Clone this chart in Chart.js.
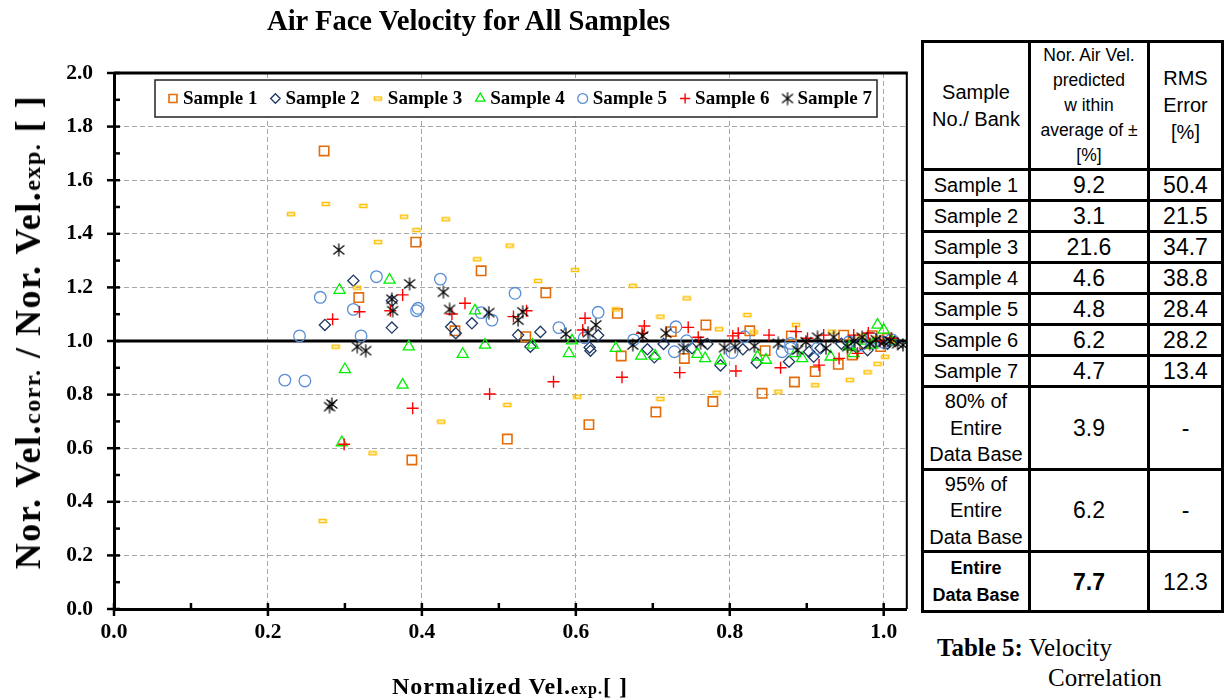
<!DOCTYPE html>
<html>
<head>
<meta charset="utf-8">
<script src="https://cdn.jsdelivr.net/npm/chart.js@4.4.0/dist/chart.umd.min.js"></script>
<style>
  body { margin: 0; background: #fff; }
  #page { position: relative; width: 1225px; height: 698px; overflow: hidden; background: #fff; }
  #chart-wrap { position: absolute; left: 0; top: 0; width: 915px; height: 698px; }
  .serif { font-family: 'Liberation Serif', 'Times New Roman', serif; color: #000; white-space: nowrap; }
  #title { position: absolute; left: 267px; top: 7px; font-size: 28.6px; font-weight: bold; line-height: 1; }
  #ytitle { position: absolute; left: 28px; top: 332px; font-size: 36px; font-weight: bold; line-height: 1;
            letter-spacing: 1.5px; transform: translate(-50%, -50%) rotate(-90deg); }
  #xtitle { position: absolute; left: 510px; top: 686px; font-size: 24px; font-weight: bold; line-height: 1;
            letter-spacing: 1px; transform: translate(-50%, -50%); }
  .sm { font-size: 0.67em; }
  #tbl { position: absolute; left: 921px; top: 40px; width: 300px; table-layout: fixed;
         border-collapse: collapse; font-family: 'Liberation Sans', Arial, sans-serif; color: #000; }
  #tbl td { border: 3px solid #000; text-align: center; vertical-align: middle; padding: 0; }
  #caption { position: absolute; left: 937px; top: 633px; font-size: 25px; line-height: 30px; }
</style>
</head>
<body>
<div id="page">
  <div id="chart-wrap"><canvas id="chart"></canvas></div>
  <div id="title" class="serif">Air Face Velocity for All Samples</div>
  <div id="ytitle" class="serif">Nor. Vel.<span class="sm">corr.</span> / Nor. Vel.<span class="sm">exp.</span> [ ]</div>
  <div id="xtitle" class="serif">Normalized Vel.<span class="sm">exp.</span>[ ]</div>
  <table id="tbl"></table>
  <div id="caption" class="serif"><b>Table 5:</b> Velocity<br><span style="padding-left:111px">Correlation</span></div>
</div>
<script>
/* series: [normalized vel. exp., corr./exp. ratio] */
var SAMPLE1 = [
  [0.273, 1.709], [0.392, 1.369], [0.477, 1.262], [0.318, 1.162], [0.443, 1.038], [0.387, 0.556],
  [0.561, 1.180], [0.535, 1.016], [0.511, 0.634], [0.654, 1.103], [0.659, 0.944], [0.617, 0.688],
  [0.724, 1.035], [0.741, 0.935], [0.704, 0.735], [0.769, 1.060], [0.778, 0.774], [0.826, 1.038],
  [0.846, 0.964], [0.842, 0.805], [0.880, 1.019], [0.884, 0.847], [0.911, 0.886], [0.941, 0.913],
  [0.948, 1.022], [0.959, 0.948], [0.975, 0.990], [0.996, 0.979], [1.005, 1.010], [0.985, 1.020]
];
var SAMPLE2 = [
  [0.274, 1.060], [0.311, 1.225], [0.361, 1.050], [0.361, 1.150], [0.438, 1.053], [0.444, 1.029],
  [0.465, 1.066], [0.525, 1.022], [0.541, 0.979], [0.554, 1.034], [0.618, 0.976], [0.619, 0.964],
  [0.629, 1.021], [0.693, 0.969], [0.702, 0.939], [0.714, 0.989], [0.751, 0.973], [0.771, 0.989],
  [0.788, 0.909], [0.817, 0.969], [0.835, 0.919], [0.877, 0.923], [0.903, 0.960], [0.909, 0.941],
  [0.918, 0.973], [0.945, 0.990], [0.965, 0.975], [0.979, 0.966], [0.990, 0.995], [1.005, 0.990],
  [1.015, 1.000]
];
var SAMPLE3 = [
  [0.230, 1.473], [0.275, 1.511], [0.324, 1.504], [0.377, 1.464], [0.393, 1.414], [0.343, 1.369],
  [0.431, 1.454], [0.514, 1.356], [0.472, 1.305], [0.316, 1.199], [0.551, 1.224], [0.599, 1.265],
  [0.674, 1.206], [0.744, 1.159], [0.652, 1.118], [0.823, 1.097], [0.710, 1.091], [0.786, 1.044],
  [0.886, 1.060], [0.831, 1.032], [0.933, 1.035], [0.288, 0.979], [0.336, 0.581], [0.271, 0.328],
  [0.425, 0.699], [0.511, 0.761], [0.602, 0.792], [0.710, 0.784], [0.783, 0.807], [0.863, 0.811],
  [0.911, 0.835], [0.956, 0.854], [0.979, 0.883], [0.992, 0.915], [1.002, 0.941], [0.970, 1.020],
  [0.990, 1.010], [1.010, 0.990]
];
var SAMPLE4 = [
  [0.293, 1.190], [0.358, 1.228], [0.469, 1.113], [0.383, 0.979], [0.300, 0.894], [0.375, 0.836],
  [0.296, 0.621], [0.453, 0.951], [0.482, 0.985], [0.544, 0.985], [0.595, 1.001], [0.591, 0.954],
  [0.652, 0.973], [0.685, 0.944], [0.703, 0.944], [0.758, 0.951], [0.768, 0.935], [0.788, 0.927],
  [0.836, 0.941], [0.847, 0.929], [0.885, 0.954], [0.894, 0.935], [0.931, 0.941], [0.955, 0.979],
  [0.961, 0.954], [0.975, 1.000], [0.992, 1.060], [1.000, 1.041], [1.010, 1.000], [0.985, 0.985]
];
var SAMPLE5 = [
  [0.222, 0.854], [0.248, 0.851], [0.241, 1.019], [0.268, 1.163], [0.311, 1.118], [0.321, 1.019],
  [0.341, 1.240], [0.393, 1.113], [0.395, 1.122], [0.424, 1.231], [0.477, 1.106], [0.491, 1.078],
  [0.521, 1.178], [0.578, 1.050], [0.611, 1.012], [0.629, 1.107], [0.675, 1.004], [0.730, 1.053],
  [0.728, 0.960], [0.744, 1.001], [0.803, 0.957], [0.819, 1.016], [0.868, 0.960], [0.879, 0.991],
  [0.879, 0.973], [0.914, 0.973], [0.955, 0.997], [0.970, 0.985], [0.985, 1.010], [1.000, 0.995],
  [1.010, 1.005]
];
var SAMPLE6 = [
  [0.284, 1.081], [0.299, 0.615], [0.319, 1.109], [0.359, 1.113], [0.375, 1.172], [0.388, 0.749],
  [0.439, 1.101], [0.456, 1.141], [0.488, 0.802], [0.519, 1.091], [0.536, 1.113], [0.571, 0.848],
  [0.609, 1.041], [0.612, 1.085], [0.660, 0.865], [0.686, 1.029], [0.689, 1.056], [0.735, 0.882],
  [0.746, 1.051], [0.759, 1.014], [0.804, 1.019], [0.808, 0.888], [0.811, 1.029], [0.851, 1.022],
  [0.866, 0.900], [0.886, 1.035], [0.901, 1.010], [0.916, 0.910], [0.922, 1.022], [0.942, 0.935],
  [0.961, 1.022], [0.966, 0.954], [0.980, 1.030], [0.995, 1.000], [1.010, 1.010]
];
var SAMPLE7 = [
  [0.280, 0.755], [0.283, 0.765], [0.292, 1.340], [0.316, 0.979], [0.327, 0.964], [0.361, 1.156],
  [0.362, 1.113], [0.384, 1.213], [0.428, 1.182], [0.436, 1.118], [0.487, 1.106], [0.525, 1.078],
  [0.531, 1.109], [0.587, 1.026], [0.616, 1.031], [0.626, 1.060], [0.674, 0.985], [0.687, 1.019],
  [0.717, 1.029], [0.740, 0.973], [0.762, 0.991], [0.793, 0.975], [0.807, 0.979], [0.832, 0.981],
  [0.863, 0.991], [0.888, 0.966], [0.899, 0.997], [0.914, 1.014], [0.925, 0.973], [0.935, 1.014],
  [0.953, 0.979], [0.962, 1.000], [0.972, 1.014], [0.982, 0.990], [0.990, 1.005], [1.000, 0.995],
  [1.008, 1.000], [1.018, 0.990], [1.025, 0.985]
];
var SAMPLE_NAMES = ['Sample 1', 'Sample 2', 'Sample 3', 'Sample 4', 'Sample 5', 'Sample 6', 'Sample 7'];
var PERFECT_LINE = [[0, 1], [1.03, 1]];

/* Table 5 */
var TABLE_ROWS = ['Sample 1', 'Sample 2', 'Sample 3', 'Sample 4', 'Sample 5', 'Sample 6', 'Sample 7',
  '80% of<br>Entire<br>Data Base', '95% of<br>Entire<br>Data Base', 'Entire<br>Data Base'];
var TABLE_WITHIN = ['9.2', '3.1', '21.6', '4.6', '4.8', '6.2', '4.7', '3.9', '6.2', '7.7'];
var TABLE_RMS = ['50.4', '21.5', '34.7', '38.8', '28.4', '28.2', '13.4', '-', '-', '12.3'];

function xy(arr) { return arr.map(function (p) { return { x: p[0], y: p[1] }; }); }

/* custom markers: Excel-style small bar and six-arm asterisk */
function barMarker() {
  var c = document.createElement('canvas'); c.width = 10; c.height = 6;
  var g = c.getContext('2d');
  g.strokeStyle = '#FFC000'; g.lineWidth = 1.5;
  g.strokeRect(1.5, 1.5, 7, 3);
  return c;
}
function starMarker() {
  var c = document.createElement('canvas'); c.width = 14; c.height = 14;
  var g = c.getContext('2d');
  g.strokeStyle = '#000'; g.lineWidth = 1.2;
  g.beginPath();
  g.moveTo(1.5, 2.5); g.lineTo(12.5, 11.5);
  g.moveTo(12.5, 2.5); g.lineTo(1.5, 11.5);
  g.moveTo(7, 0.5); g.lineTo(7, 13.5);
  g.stroke();
  return c;
}

var MARKERS = [
  { pointStyle: 'rect',     radius: 6.6, color: '#E46C0A', width: 1.6 },
  { pointStyle: 'rectRot',  radius: 5.6, color: '#1F3864', width: 1.3 },
  { pointStyle: barMarker(), radius: 5,  color: '#FFC000', width: 1.5 },
  { pointStyle: 'triangle', radius: 6.4, color: '#00EE00', width: 1.3 },
  { pointStyle: 'circle',   radius: 5.8, color: '#5B8ED6', width: 1.3 },
  { pointStyle: 'cross',    radius: 6,   color: '#FF0000', width: 1.4 },
  { pointStyle: starMarker(), radius: 7, color: '#000000', width: 1.2 }
];
var SERIES = [SAMPLE1, SAMPLE2, SAMPLE3, SAMPLE4, SAMPLE5, SAMPLE6, SAMPLE7];

var datasets = SERIES.map(function (s, i) {
  var m = MARKERS[i];
  return {
    label: SAMPLE_NAMES[i], data: xy(s), order: 7 - i,
    pointStyle: m.pointStyle, pointRadius: m.radius, pointBorderColor: m.color,
    pointBackgroundColor: 'rgba(0,0,0,0)', pointBorderWidth: m.width, showLine: false
  };
});
datasets.push({
  label: '', data: xy(PERFECT_LINE), order: 20, showLine: true,
  borderColor: '#000', borderWidth: 3, pointRadius: 0
});

function isMajor(v) { return Math.round(v * 10) % 2 === 0; }

/* frame on top/right plus Excel-like major (crossing) and minor (inside) tick marks */
var frameTicks = {
  id: 'frameTicks',
  afterDraw: function (chart) {
    var ctx = chart.ctx, a = chart.chartArea, xs = chart.scales.x, ys = chart.scales.y;
    ctx.save();
    ctx.strokeStyle = '#000';
    ctx.lineWidth = 3;
    ctx.beginPath(); ctx.moveTo(a.left, a.top); ctx.lineTo(a.right + 1, a.top); ctx.stroke();
    ctx.lineWidth = 2;
    ctx.beginPath(); ctx.moveTo(a.right, a.top); ctx.lineTo(a.right, a.bottom); ctx.stroke();
    ctx.lineWidth = 2.5;
    ys.ticks.forEach(function (t) {
      var y = ys.getPixelForValue(t.value);
      ctx.beginPath(); ctx.moveTo(a.left - (isMajor(t.value) ? 7 : 0), y); ctx.lineTo(a.left + 6, y); ctx.stroke();
    });
    xs.ticks.forEach(function (t) {
      var x = xs.getPixelForValue(t.value);
      ctx.beginPath(); ctx.moveTo(x, a.bottom - 6); ctx.lineTo(x, a.bottom + (isMajor(t.value) ? 7 : 0)); ctx.stroke();
    });
    ctx.restore();
  }
};

/* boxed legend drawn inside the plot area */
var boxLegend = {
  id: 'boxLegend',
  afterDatasetsDraw: function (chart) {
    var ctx = chart.ctx, a = chart.chartArea;
    var bx = a.left + 41, by = a.top + 7, bw = 722, bh = 37, cy = by + bh / 2;
    ctx.save();
    ctx.fillStyle = '#fff'; ctx.fillRect(bx, by, bw, bh);
    ctx.strokeStyle = '#222'; ctx.lineWidth = 1.5; ctx.strokeRect(bx, by, bw, bh);
    ctx.font = 'bold 19px "Liberation Serif"'; ctx.textBaseline = 'middle'; ctx.textAlign = 'left';
    var x = bx + 18;
    SAMPLE_NAMES.forEach(function (name, i) {
      var m = MARKERS[i];
      ctx.strokeStyle = m.color; ctx.fillStyle = 'rgba(0,0,0,0)'; ctx.lineWidth = m.width;
      Chart.helpers.drawPoint(ctx, { pointStyle: m.pointStyle, radius: m.radius * 0.85, borderWidth: m.width, rotation: 0 }, x, cy);
      ctx.fillStyle = '#000';
      ctx.fillText(name, x + 10, cy + 1);
      x += 10 + ctx.measureText(name).width + 18;
    });
    ctx.restore();
  }
};

var tickFont = { family: 'Liberation Serif', size: 21.5, weight: 'bold' };

new Chart(document.getElementById('chart'), {
  type: 'scatter',
  data: { datasets: datasets },
  options: {
    responsive: true, maintainAspectRatio: false, animation: false, events: [],
    layout: { padding: { top: 73, right: 5, bottom: 0, left: 0 } },
    plugins: { legend: { display: false }, tooltip: { enabled: false }, title: { display: false } },
    scales: {
      x: {
        type: 'linear', min: 0, max: 1.03,
        afterFit: function (s) { s.height = 89; },
        ticks: { stepSize: 0.1, includeBounds: false, autoSkip: false, maxRotation: 0, padding: 11, color: '#000', font: tickFont,
                 callback: function (v) { return isMajor(v) ? v.toFixed(1) : ''; } },
        grid: { drawTicks: false, lineWidth: 1,
                color: function (c) { return c.tick && isMajor(c.tick.value) ? '#A6A6A6' : 'rgba(0,0,0,0)'; } },
        border: { display: true, color: '#000', width: 3, dash: [5, 3] }
      },
      y: {
        type: 'linear', min: 0, max: 2,
        afterFit: function (s) { s.width = 114; },
        ticks: { stepSize: 0.1, autoSkip: false, padding: 21, color: '#000', font: tickFont,
                 callback: function (v) { return isMajor(v) ? v.toFixed(1) : ''; } },
        grid: { drawTicks: false, lineWidth: 1,
                color: function (c) { return c.tick && isMajor(c.tick.value) ? '#A6A6A6' : 'rgba(0,0,0,0)'; } },
        border: { display: true, color: '#000', width: 3, dash: [5, 3] }
      }
    }
  },
  plugins: [boxLegend, frameTicks]
});

/* Table 5 markup from the arrays */
var ROW_H = [31, 31, 31, 31, 31, 31, 31, 80, 80, 60];
var html = '<colgroup><col style="width:107px"><col style="width:119px"><col style="width:74px"></colgroup>' +
  '<tr style="height:123px">' +
  '<td style="font-size:20px;line-height:27px">Sample<br>No./ Bank</td>' +
  '<td style="font-size:17.5px;line-height:25px">Nor. Air Vel.<br>predicted<br>w ithin<br>average of ±<br>[%]</td>' +
  '<td style="font-size:20px;line-height:27px">RMS<br>Error<br>[%]</td></tr>';
TABLE_ROWS.forEach(function (lab, i) {
  var last = i === TABLE_ROWS.length - 1;
  var multi = lab.indexOf('<br>') >= 0;
  html += '<tr style="height:' + ROW_H[i] + 'px">' +
    '<td style="font-size:' + (last ? 18 : 20) + 'px;line-height:' + (multi ? 26.5 : 26) + 'px;' + (last ? 'font-weight:bold' : '') + '">' + lab + '</td>' +
    '<td style="font-size:23px;line-height:26px;' + (last ? 'font-weight:bold' : '') + '">' + TABLE_WITHIN[i] + '</td>' +
    '<td style="font-size:23px;line-height:26px">' + TABLE_RMS[i] + '</td></tr>';
});
document.getElementById('tbl').innerHTML = html;
</script>
</body>
</html>
